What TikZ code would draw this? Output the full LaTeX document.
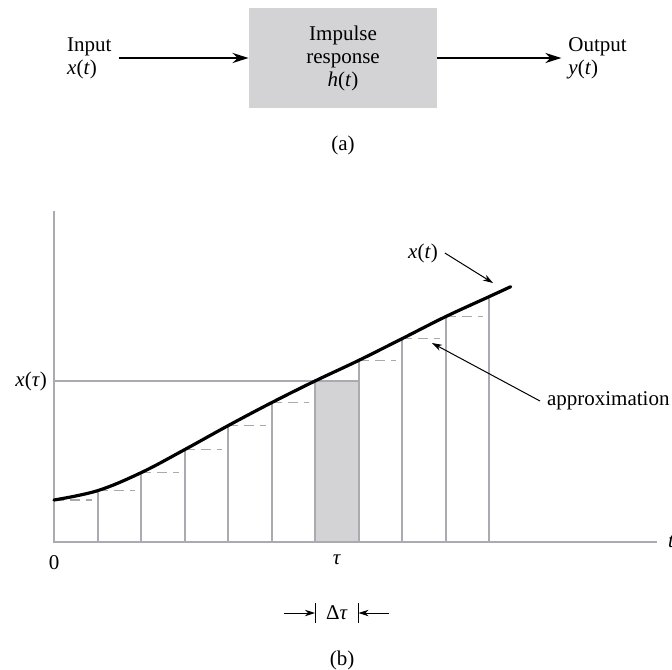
\documentclass[tikz,border=0pt]{standalone}
\usepackage{fontspec}
\setmainfont{Liberation Serif}
\usetikzlibrary{arrows.meta,positioning}

\definecolor{boxgray}{RGB}{211,211,213}
\definecolor{gridgray}{RGB}{170,170,176}
\definecolor{dashgray}{RGB}{170,170,170}
\newcommand{\sigof}[2]{\textit{#1}(\textit{#2})}

\begin{document}
\begin{tikzpicture}[
    x=0.5pt, y=-0.5pt,
    font=\fontsize{10.5}{11.5}\selectfont,
    sysbox/.style={fill=boxgray, minimum width=94pt, minimum height=50pt, align=center},
    sig/.style={align=left},
    link/.style={-{Stealth[length=8pt, width=5pt, inset=2.5pt]}, line width=1.2pt},
    pointer/.style={-{Stealth[length=5pt, width=3.2pt, inset=1.5pt]}, line width=0.5pt},
    gridline/.style={gridgray, line width=1pt},
    stair/.style={dashgray, line width=0.6pt, dash pattern=on 5pt off 3pt},
    curve/.style={line width=1.6pt, line cap=round}
]
\useasboundingbox (0,0) rectangle (672,669);

% (a) the system
\node[sysbox] (sys) at (343,58) {Impulse\\response\\\sigof{h}{t}};
\node[sig, left=65pt of sys] (inp) {Input\\\sigof{x}{t}};
\node[sig, right=62pt of sys] (outp) {Output\\\sigof{y}{t}};
\node (capa) at (343,145) {(a)};
\draw[link] (inp) -- (sys);
\draw[link] (sys) -- (outp);

% (b) staircase approximation
\coordinate (o) at (54,542);
\coordinate (ytop) at (54,211);
\coordinate (xend) at (657,542);
\foreach \yv [count=\i from 0] in {500,490.7,472.7,449.7,425.7,402.7,381,360.5,338.7,316.7,296.7}
    \coordinate (c\i) at ({54+43.5*\i},\yv);
\coordinate (cend) at (510.7,286.7);

\fill[boxgray] (c6 |- o) rectangle (c7 |- c6);
\foreach \i in {1,...,10}
    \draw[gridline] (c\i |- o) -- (c\i);
\draw[gridline] (o |- c6) -- (c7 |- c6);
\foreach \i [evaluate=\i as \j using int(\i+1)] in {0,1,2,3,4,5,7,8,9}
    \draw[stair] (c\i) -- ([xshift=-3pt]c\j |- c\i);
\draw[gridline] (ytop) -- (o) -- (xend);

\draw[curve] plot[smooth, tension=0.6] coordinates {(c0) (c1) (c2) (c3) (c4) (c5) (c6) (c7) (c8) (c9) (c10) (cend)};

\node[anchor=east] (xtau) at (o |- c6) {\sigof{x}{τ}};
\node[anchor=north] (zero) at ([yshift=-3pt]o) {0};
\node[anchor=north] (tau) at ([yshift=-3pt]337,542) {\textit{τ}};
\node[anchor=west] (tlab) at ([xshift=2pt]xend) {\textit{t}};

\node (xlab) at (423,253) {\sigof{x}{t}};
\coordinate (xtip) at (493,283);
\draw[pointer] (xlab.east) -- (xtip);
\node[anchor=west] (approx) at (540,401) {approximation};
\coordinate (atip) at (432,343);
\draw[pointer] (approx.west) -- (atip);

% width of one strip
\coordinate (dl) at (315,603);
\coordinate (dr) at (358.5,603);
\draw[line width=0.5pt] (dl) -- ++(0,20) (dr) -- ++(0,20);
\node (dtau) at (337,613) {Δ\textit{τ}};
\draw[pointer] (284,613) -- ([yshift=-5pt]dl);
\draw[pointer] (389,613) -- ([yshift=-5pt]dr);
\node (capb) at (342,660) {(b)};
\end{tikzpicture}
\end{document}
